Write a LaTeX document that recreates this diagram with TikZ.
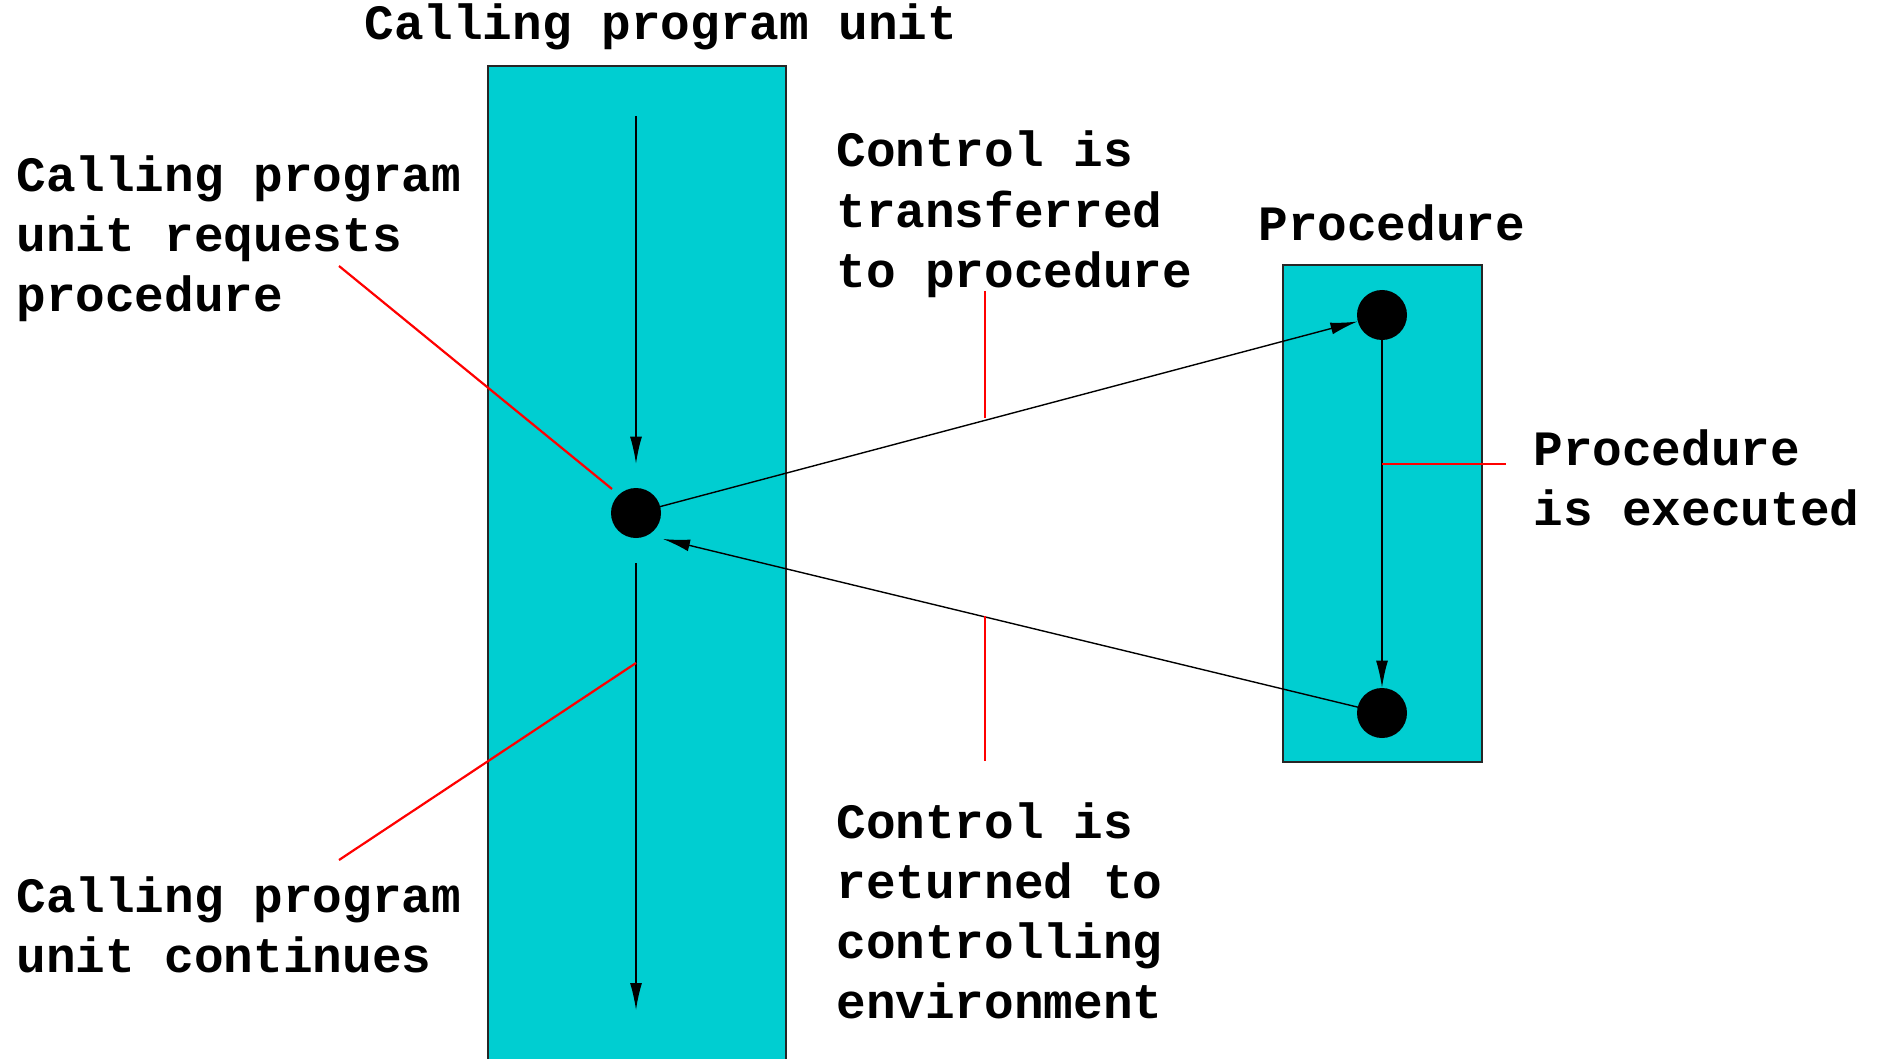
\documentclass[tikz,border=0pt]{standalone}
\usepackage{fontspec}
\setmonofont{Liberation Mono}
\usetikzlibrary{arrows.meta}
\definecolor{unitfill}{RGB}{0,206,209}
\definecolor{leader}{RGB}{255,0,0}
\begin{document}
\begin{tikzpicture}[x=0.5pt,y=-0.5pt,
  unitbox/.style={fill=unitfill,draw=black!85,line width=0.6pt},
  dot/.style={circle,fill=black,inner sep=0pt,minimum size=25pt},
  flow/.style={draw=black,line width=0.7pt,-{Latex[length=13.5pt,width=6pt]}},
  leadline/.style={draw=leader,line width=1.1pt},
  lbl/.style={font=\fontsize{24.7pt}{30pt}\selectfont\ttfamily\bfseries,
    inner sep=0pt,align=left,anchor=base west}]
\useasboundingbox (0,0) rectangle (1879,1059);
\clip (0,0) rectangle (1879,1059);

% program unit and procedure bodies
\draw[unitbox] (488,66) rectangle (786,1075);
\draw[unitbox] (1283,265) rectangle (1482,762);

% control points
\node[dot] (d1) at (636,513) {};
\node[dot] (d2) at (1382,315) {};
\node[dot] (d3) at (1382,713) {};
\coordinate (cin) at (636,116);
\coordinate (cout) at (636,1010);
\coordinate (ret) at (663,539);

% flow of control
\draw[flow,shorten >=12pt] (cin) -- (d1.north);
\draw[flow,shorten <=12.5pt] (d1.south) -- (cout);
\draw[flow] (d1.center) -- (d2);
\draw[flow] (d2.south) -- (d3.north);
\draw[flow] (d3.center) -- (ret);

% leader lines from the labels
\coordinate (la1) at (339,266);  \coordinate (la2) at (612,489);
\coordinate (lb1) at (339,860);  \coordinate (lb2) at (636,663);
\coordinate (lc1) at (985,291);  \coordinate (lc2) at (985,418);
\coordinate (ld1) at (985,616);  \coordinate (ld2) at (985,761);
\coordinate (le1) at (1382,464); \coordinate (le2) at (1506,464);
\draw[leadline] (la1) -- (la2);
\draw[leadline] (lb1) -- (lb2);
\draw[leadline] (lc1) -- (lc2);
\draw[leadline] (ld1) -- (ld2);
\draw[leadline] (le1) -- (le2);

% labels (base anchor sits on the last line's baseline)
\node[lbl] (tcall) at (364,40) {Calling program unit};
\node[lbl] (tproc) at (1258,241) {Procedure};
\node[lbl] (treq) at (16,312) {Calling program\\unit requests\\procedure};
\node[lbl] (txfer) at (836,287) {Control is\\transferred\\to procedure};
\node[lbl] (texec) at (1533,525) {Procedure\\is executed};
\node[lbl] (tcont) at (16,972) {Calling program\\unit continues};
\node[lbl] (tret) at (836,1018) {Control is\\returned to\\controlling\\environment};
\end{tikzpicture}
\end{document}
